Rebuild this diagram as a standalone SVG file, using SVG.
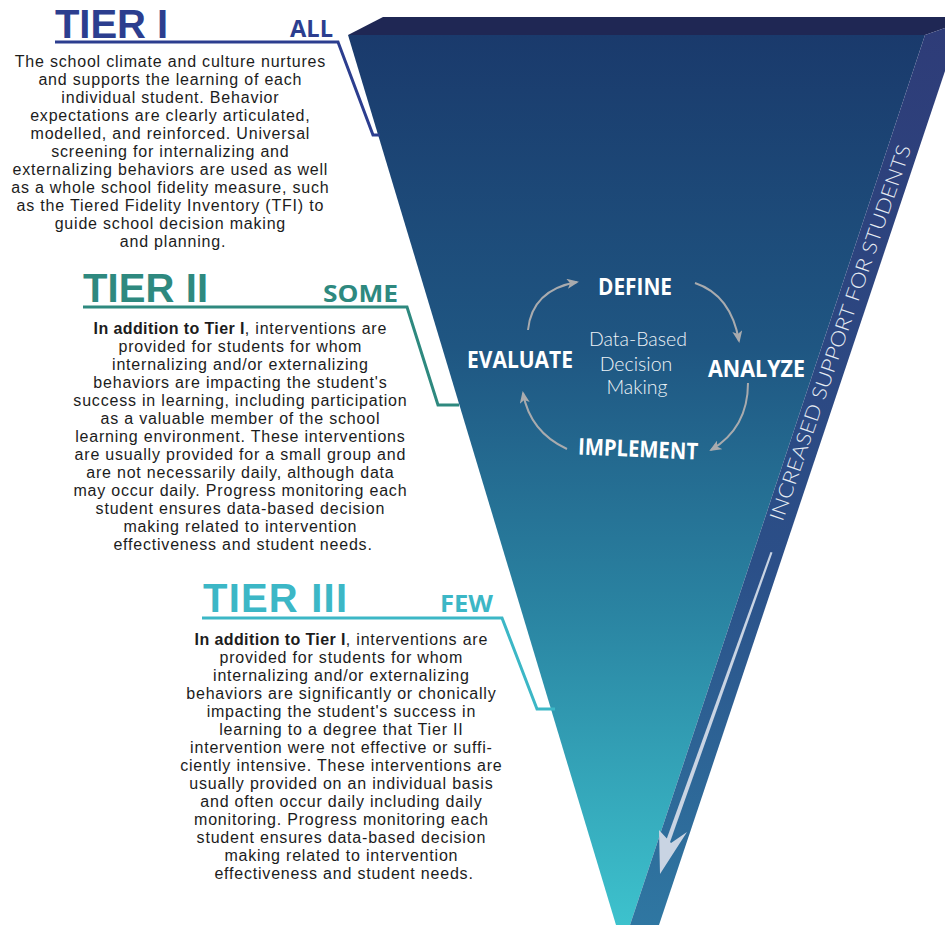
<svg xmlns="http://www.w3.org/2000/svg" width="945" height="925" viewBox="0 0 945 925">
<defs>
<linearGradient id="gFront" x1="0" y1="35" x2="0" y2="925" gradientUnits="userSpaceOnUse">
<stop offset="0" stop-color="#1a3a6c"/>
<stop offset="0.35" stop-color="#1f5682"/>
<stop offset="0.65" stop-color="#2a84a2"/>
<stop offset="1" stop-color="#3dc2cd"/>
</linearGradient>
<linearGradient id="gSide" x1="0" y1="28" x2="0" y2="925" gradientUnits="userSpaceOnUse">
<stop offset="0" stop-color="#2e3c78"/>
<stop offset="0.6" stop-color="#2b4f88"/>
<stop offset="1" stop-color="#2f77a2"/>
</linearGradient>
<marker id="ah" viewBox="0 0 12 10" refX="10" refY="5" markerWidth="12" markerHeight="10" markerUnits="userSpaceOnUse" orient="auto">
<path d="M0,0 L12,5 L0,10 L3,5 z" fill="#a9abae"/>
</marker>
<style>
.body{font-family:"Liberation Sans","Open Sans",sans-serif;font-size:16px;letter-spacing:0.8px;fill:#1c1c1c;text-anchor:middle}
.b{font-weight:700;letter-spacing:0.4px}
.head{font-family:"Liberation Sans","Open Sans",sans-serif;font-weight:700;font-size:40px}
.tag{font-family:"Open Sans","DejaVu Sans",sans-serif;font-weight:700;font-size:24px}
.step{font-family:"Open Sans","DejaVu Sans",sans-serif;font-weight:700;font-size:23px;fill:#ffffff}
.mid{font-family:"Lato","Open Sans",sans-serif;font-weight:300;font-size:19.5px;fill:#eef3f7;text-anchor:middle}
.cyc{fill:none;stroke:#a9abae;stroke-width:2;marker-end:url(#ah)}
.lead{fill:none;stroke-width:3}
</style>
</defs>
<rect width="945" height="925" fill="#ffffff"/>

<g id="pyramid">
<polygon points="348,35 383,17 945,17 945,28 925,35" fill="#1f2754"/>
<polygon points="348,35 925,35 630,925 616,925" fill="url(#gFront)"/>
<polygon points="925,35 945,28 945,71 659,925 630,925" fill="url(#gSide)"/>
<polygon points="770.5,552 772.5,552.5 669,845 665,843.5" fill="#c9d4e3"/>
<polygon points="660,874 659,830 671,843 687,832" fill="#c9d4e3"/>
</g>

<g id="side-label">
<text transform="translate(847,335) rotate(-71)" text-anchor="middle" font-family="Lato, 'Open Sans', sans-serif" font-weight="300" font-size="20" fill="#e6ecf3" textLength="396" lengthAdjust="spacingAndGlyphs">INCREASED SUPPORT FOR STUDENTS</text>
</g>

<g id="connectors">
<polyline class="lead" stroke="#2c3e8f" points="55,42 338,42 373,135 380,135"/>
<polyline class="lead" stroke="#2e897f" points="83,307 407,307 438,405 459,405"/>
<polyline class="lead" stroke="#3cb7c6" points="202,618 502,618 537,709 555,709"/>
<path class="cyc" d="M528,330 Q532,290 577,282"/>
<path class="cyc" d="M695,283 Q731,295 739,341"/>
<path class="cyc" d="M748,383 Q748,428 711,450"/>
<path class="cyc" d="M567,449 Q530,432 523,393"/>
</g>

<g id="tier1">
<text class="head" x="55" y="38" fill="#2c3e8f" textLength="113" lengthAdjust="spacing">TIER I</text>
<text class="tag" x="290" y="37" fill="#2c3e8f" textLength="43" lengthAdjust="spacingAndGlyphs">ALL</text>
<text class="body">
<tspan x="173" y="67">The school climate and culture nurtures</tspan>
<tspan x="173" y="85">and supports the learning of each</tspan>
<tspan x="173" y="103">individual student. Behavior</tspan>
<tspan x="173" y="121">expectations are clearly articulated,</tspan>
<tspan x="173" y="139">modelled, and reinforced.  Universal</tspan>
<tspan x="173" y="157">screening for internalizing and</tspan>
<tspan x="173" y="175">externalizing behaviors are used as well</tspan>
<tspan x="173" y="193">as a whole school fidelity measure, such</tspan>
<tspan x="173" y="211">as the Tiered Fidelity Inventory (TFI) to</tspan>
<tspan x="173" y="229">guide school decision making</tspan>
<tspan x="173" y="247">and planning.</tspan>
</text>
</g>

<g id="tier2">
<text class="head" x="83" y="302" fill="#2e897f" textLength="125" lengthAdjust="spacing">TIER II</text>
<text class="tag" x="323" y="302" fill="#2e897f" textLength="75" lengthAdjust="spacingAndGlyphs">SOME</text>
<text class="body">
<tspan x="243" y="334"><tspan class="b">In addition to Tier I</tspan>, interventions are</tspan>
<tspan x="243" y="352">provided for students for whom</tspan>
<tspan x="243" y="370">internalizing and/or externalizing</tspan>
<tspan x="243" y="388">behaviors are impacting the student's</tspan>
<tspan x="243" y="406">success in learning, including participation</tspan>
<tspan x="243" y="424">as a valuable member of the school</tspan>
<tspan x="243" y="442">learning environment. These interventions</tspan>
<tspan x="243" y="460">are usually provided for a small group and</tspan>
<tspan x="243" y="478">are not necessarily daily, although data</tspan>
<tspan x="243" y="496">may occur daily. Progress monitoring each</tspan>
<tspan x="243" y="514">student ensures data-based decision</tspan>
<tspan x="243" y="532">making related to intervention</tspan>
<tspan x="243" y="550">effectiveness and student needs.</tspan>
</text>
</g>

<g id="tier3">
<text class="head" x="203" y="612" fill="#3cb7c6" textLength="144" lengthAdjust="spacing">TIER III</text>
<text class="tag" x="440" y="612" fill="#3cb7c6" textLength="53" lengthAdjust="spacingAndGlyphs">FEW</text>
<text class="body">
<tspan x="344" y="645"><tspan class="b">In addition to Tier I</tspan>, interventions are</tspan>
<tspan x="344" y="663">provided for students for whom</tspan>
<tspan x="344" y="681">internalizing and/or externalizing</tspan>
<tspan x="344" y="699">behaviors are significantly or chonically</tspan>
<tspan x="344" y="717">impacting the student's success in</tspan>
<tspan x="344" y="735">learning to a degree that Tier II</tspan>
<tspan x="344" y="753">intervention were not effective or suffi-</tspan>
<tspan x="344" y="771">ciently intensive. These interventions are</tspan>
<tspan x="344" y="789">usually provided on an individual basis</tspan>
<tspan x="344" y="807">and often occur daily including daily</tspan>
<tspan x="344" y="825">monitoring.  Progress monitoring each</tspan>
<tspan x="344" y="843">student ensures data-based decision</tspan>
<tspan x="344" y="861">making related to intervention</tspan>
<tspan x="344" y="879">effectiveness and student needs.</tspan>
</text>
</g>

<g id="define"><text class="step" x="598" y="295" textLength="74" lengthAdjust="spacingAndGlyphs">DEFINE</text></g>
<g id="analyze"><text class="step" x="708" y="377" textLength="97" lengthAdjust="spacingAndGlyphs">ANALYZE</text></g>
<g id="implement"><text class="step" x="578" y="457" textLength="120" lengthAdjust="spacingAndGlyphs" transform="rotate(2.5 638 450)">IMPLEMENT</text></g>
<g id="evaluate"><text class="step" x="467" y="368" textLength="106" lengthAdjust="spacingAndGlyphs">EVALUATE</text></g>
<g id="center-label">
<text class="mid"><tspan x="638" y="346">Data-Based</tspan><tspan x="636" y="371">Decision</tspan><tspan x="637" y="394">Making</tspan></text>
</g>
</svg>
